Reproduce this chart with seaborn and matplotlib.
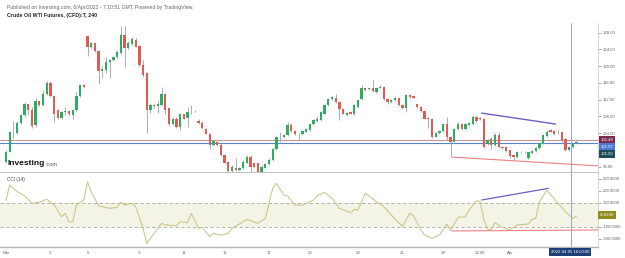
import numpy as np
import pandas as pd
import matplotlib
matplotlib.use("Agg")
import matplotlib.pyplot as plt
import seaborn as sns

# candles, 240 min bars
opens = [97.2, 99.6, 104.2, 104.0, 106.4, 108.3, 110.9, 109.5, 106.0, 111.7,
         110.7, 113.3, 115.9, 113.0, 109.5, 107.7, 109.0, 109.3, 108.3, 109.5,
         112.9, 115.5, 127.2, 124.5, 125.5, 123.7, 118.9, 119.1, 121.1, 121.5,
         122.2, 123.1, 127.4, 124.3, 125.4, 126.3, 124.9, 120.3, 118.3, 109.5,
         110.7, 110.5, 110.7, 113.4, 110.0, 106.1, 107.5, 105.5, 108.5, 107.7,
         109.0, 109.2, 107.0, 106.5, 105.1, 103.9, 101.3, 101.9, 101.2, 98.8,
         97.2, 95.0, 95.8, 95.2, 95.6, 97.0, 98.4, 96.8, 96.8, 94.8,
         95.8, 96.6, 97.6, 100.2, 103.2, 103.1, 103.5, 106.0, 104.5, 103.7,
         103.7, 104.4, 104.8, 106.1, 106.9, 107.2, 108.7, 110.7, 112.2, 112.3,
         111.5, 109.8, 108.3, 109.0, 108.5, 110.3, 112.2, 114.7, 114.6, 114.7,
         113.9, 114.9, 115.0, 112.2, 111.4, 111.9, 112.5, 110.7, 110.1, 113.1,
         112.9, 110.9, 110.3, 109.3, 107.6, 107.4, 103.2, 104.0, 104.5, 106.1,
         103.2, 102.0, 105.0, 106.2, 105.0, 106.0, 106.2, 107.9, 107.6, 107.5,
         101.5, 102.7, 101.3, 103.5, 100.8, 100.7, 99.9, 98.7, 98.3, 99.5,
         99.4, 98.1, 99.2, 99.7, 100.4, 101.6, 103.4, 104.8, 104.5, 104.2,
         104.2, 102.6, 99.9, 100.7, 101.6]
highs = [99.9, 104.5, 106.8, 106.8, 108.5, 111.5, 111.0, 110.3, 112.3, 111.8,
         114.3, 116.5, 116.5, 113.1, 109.9, 109.3, 110.3, 109.5, 109.9, 113.9,
         115.8, 115.7, 127.4, 125.8, 125.6, 123.9, 120.0, 122.3, 121.8, 122.5,
         123.8, 129.6, 129.6, 126.0, 127.0, 126.7, 125.1, 121.5, 118.5, 111.2,
         111.0, 111.6, 115.0, 113.6, 110.3, 107.8, 107.9, 108.8, 108.7, 110.3,
         110.7, 109.5, 107.3, 106.8, 105.3, 104.1, 102.4, 102.1, 101.9, 99.0,
         97.4, 96.3, 98.0, 96.0, 97.5, 98.8, 98.9, 97.1, 97.0, 96.3,
         96.9, 98.0, 100.5, 103.4, 104.2, 103.8, 106.6, 106.4, 104.7, 104.0,
         104.7, 105.3, 106.4, 107.5, 108.0, 109.3, 111.0, 112.5, 113.0, 113.3,
         111.7, 110.0, 109.1, 109.2, 111.0, 112.1, 115.4, 114.9, 114.9, 116.7,
         115.0, 115.4, 115.2, 112.4, 112.1, 112.8, 112.7, 110.9, 113.3, 113.3,
         113.0, 111.1, 110.5, 109.5, 107.8, 107.6, 104.2, 104.7, 106.3, 107.9,
         103.4, 105.2, 106.6, 106.4, 106.4, 106.6, 108.3, 108.1, 107.8, 107.7,
         102.6, 103.0, 104.0, 104.3, 101.0, 100.9, 100.1, 98.9, 99.8, 99.8,
         99.7, 99.6, 99.9, 100.6, 101.8, 103.8, 104.7, 105.0, 104.8, 104.8,
         104.4, 102.8, 100.9, 101.7, 102.1]
lows = [97.0, 99.4, 102.8, 103.7, 106.1, 107.9, 108.3, 105.2, 105.6, 110.6,
        110.6, 113.1, 112.7, 106.6, 107.5, 107.5, 108.3, 108.2, 107.4, 109.3,
        112.7, 114.9, 122.4, 124.3, 123.5, 115.7, 117.2, 118.3, 117.3, 121.2,
        121.9, 122.8, 119.9, 124.0, 125.0, 124.5, 120.0, 117.5, 104.0, 108.9,
        110.0, 108.8, 110.5, 108.7, 105.8, 106.0, 105.2, 104.8, 107.3, 105.5,
        108.5, 109.0, 106.3, 104.9, 103.7, 100.3, 101.0, 101.0, 98.6, 96.8,
        94.8, 94.8, 95.0, 95.0, 95.4, 96.8, 94.8, 95.7, 94.6, 94.6,
        95.6, 96.4, 97.4, 100.0, 102.0, 102.9, 103.3, 104.3, 103.5, 102.4,
        103.5, 104.2, 104.6, 105.9, 106.7, 107.0, 108.5, 110.5, 112.0, 111.3,
        107.1, 108.5, 108.1, 108.5, 108.3, 110.0, 112.0, 114.0, 114.3, 113.9,
        113.7, 114.7, 112.0, 111.0, 111.2, 111.7, 110.5, 109.9, 109.1, 112.5,
        112.3, 110.1, 109.0, 107.3, 105.2, 102.9, 103.0, 103.8, 104.3, 102.4,
        98.4, 101.8, 104.8, 104.8, 104.8, 105.8, 106.0, 106.7, 107.1, 100.5,
        101.3, 100.2, 101.0, 100.5, 100.3, 99.4, 98.0, 97.6, 98.1, 99.2,
        99.2, 97.9, 99.0, 99.5, 100.2, 101.4, 103.2, 104.2, 103.5, 103.9,
        101.9, 99.7, 99.7, 100.5, 101.4]
closes = [99.6, 104.2, 104.3, 106.4, 108.3, 110.9, 109.5, 105.8, 111.7, 110.7,
          113.3, 115.9, 113.0, 108.5, 107.7, 109.1, 109.3, 108.5, 109.5, 112.9,
          115.5, 115.0, 124.5, 125.6, 123.7, 118.9, 119.3, 121.1, 121.5, 122.2,
          123.3, 127.4, 124.3, 125.6, 126.5, 124.7, 120.3, 117.9, 109.5, 110.7,
          110.4, 111.0, 113.4, 109.5, 106.1, 107.4, 105.5, 108.5, 107.5, 109.0,
          109.1, 109.3, 106.5, 105.3, 103.9, 101.3, 102.1, 101.3, 98.8, 97.0,
          95.0, 96.0, 95.2, 95.8, 97.2, 98.4, 96.0, 96.0, 94.8, 96.0,
          96.6, 97.6, 100.2, 103.2, 103.1, 103.5, 106.0, 104.5, 103.7, 103.8,
          104.5, 105.0, 106.1, 107.2, 107.3, 109.0, 110.7, 112.2, 112.7, 111.5,
          109.8, 108.7, 108.9, 108.7, 110.7, 111.9, 114.7, 114.4, 114.6, 114.1,
          114.7, 115.1, 112.2, 111.4, 111.9, 112.5, 110.7, 110.1, 113.1, 112.7,
          112.5, 110.3, 109.3, 107.5, 107.4, 103.2, 104.0, 104.5, 106.1, 103.2,
          102.0, 105.0, 106.2, 105.0, 106.2, 106.4, 107.9, 107.0, 107.3, 100.7,
          102.3, 101.3, 103.5, 100.7, 100.5, 99.7, 98.6, 98.3, 99.5, 99.5,
          99.5, 99.4, 99.7, 100.4, 101.6, 103.5, 104.4, 104.4, 103.7, 104.2,
          102.4, 99.9, 100.7, 101.5, 101.8]

# CCI(14) turning points (bar index, value)
cci_bar = [0, 1, 3, 5, 7, 9, 11, 13, 15, 16, 17, 18, 19, 21, 22, 23, 25, 28, 30, 31,
           32, 34, 35, 37, 38, 39, 42, 43, 46, 47, 49, 50, 52, 53, 55, 56, 58, 60, 61, 63,
           65, 66, 68, 70, 72, 73, 75, 76, 78, 80, 82, 83, 84, 86, 88, 90, 93, 94, 95, 97,
           100, 102, 104, 107, 109, 110, 112, 113, 115, 117, 119, 120, 122, 124, 125, 127, 128, 129, 130, 131,
           132, 134, 136, 138, 141, 142, 143, 144, 146, 149, 151, 153, 154]
cci_val = [120, 250, 194, 160, 98, 106, 131, 83, -14, 14, -56, -56, 83, 125, 278, 194, 75, 56, 64, 106,
           83, 98, 69, -111, -236, -194, -69, -83, -89, -56, -64, 14, -111, -103, -181, -153, -167, -153, -111, -75,
           -36, -47, -69, -28, 222, 264, 167, 158, 83, 83, 110, 125, 160, 189, 139, 56, 19, 47, 42, 181,
           111, 69, 0, -97, 14, -8, -125, -167, -194, -167, -75, -131, -19, -14, 42, 119, 111, -40, -119, -119,
           -64, -103, -125, -83, -75, -36, -28, 111, 205, 98, 28, -28, -9]

# drawn trend lines (bar index, value)
price_top_bar, price_top_val = [128.4, 148.3], [108.8, 106.2]
price_low_bar, price_low_val = [120.4, 159.8], [98.3, 96.2]
cci_top_bar, cci_top_val = [128.4, 146.4], [125, 222]
cci_low_bar, cci_low_val = [120.4, 159.8], [-133, -125]

hlines = [102.48, 101.57]
price_ticks = [96, 104, 108, 112, 116, 120, 124, 128]
cci_ticks = [300, 200, 100, -100, -200]
x_tick_pos = [0, 12, 22, 36, 48, 59, 71, 82, 95, 107, 118, 128, 136]
x_tick_lab = ["Mar", "3", "6", "9", "11", "15", "17", "20", "23", "25", "29", "12:00", "Apr"]

sns.set_style("white")
plt.rcParams["font.family"] = ["Liberation Sans", "DejaVu Sans"]

W, H = 625, 258
fig = plt.figure(figsize=(W / 100, H / 100), dpi=100)


def box(x0, y0, x1, y1):
    return [x0 / W, 1 - y1 / H, (x1 - x0) / W, (y1 - y0) / H]


ax = fig.add_axes(box(0, 23, 598, 173))
axc = fig.add_axes(box(0, 173, 598, 247))

df = pd.DataFrame({"o": opens, "h": highs, "l": lows, "c": closes})
df["i"] = np.arange(len(df))
up = df["c"] >= df["o"]
body_col = np.where(up, "#2aae62", "#e25a52")

ax.vlines(df["i"], df["l"], df["h"], color="#9aa39e", lw=0.6, zorder=1)
ax.bar(df["i"], np.maximum((df["c"] - df["o"]).abs(), 0.1), bottom=df[["o", "c"]].min(axis=1),
       width=0.62, color=body_col, edgecolor="none", zorder=2)

ax.axhline(hlines[0], color="#c9929f", lw=0.8, zorder=0)
ax.axhline(hlines[1], color="#5a84c8", lw=0.8, zorder=0)
sns.lineplot(x=price_top_bar, y=price_top_val, ax=ax, color="#6f5fc4", lw=1.0)
sns.lineplot(x=price_low_bar, y=price_low_val, ax=ax, color="#ee8080", lw=0.8)

# CCI pane
axc.axhspan(-100, 100, color="#f3f3e6", lw=0, zorder=0)
for v in (100, -100):
    axc.axhline(v, color="#a8a8a0", lw=0.6, ls=(0, (4, 3)), zorder=1)
sns.lineplot(x=cci_bar, y=cci_val, ax=axc, color="#cbc98e", lw=0.8, estimator=None, sort=False)
sns.lineplot(x=cci_top_bar, y=cci_top_val, ax=axc, color="#6f5fc4", lw=0.9)
sns.lineplot(x=cci_low_bar, y=cci_low_val, ax=axc, color="#ee8080", lw=0.8)

for a in (ax, axc):
    a.axvline(152.4, color="#8ea7d3", lw=0.7, zorder=3)
    a.set_xlim(-1.62, 159.8)
    a.yaxis.tick_right()
    for s in ("top", "left"):
        a.spines[s].set_visible(False)
    a.spines["right"].set_color("#d0d0d0")
    a.spines["right"].set_linewidth(0.6)
    a.spines["bottom"].set_color("#b5b5b5")
    a.tick_params(axis="y", labelsize=3.1, colors="#666666", length=2, width=0.4, pad=1.5)
    a.set_xlabel("")
    a.set_ylabel("")
    a.grid(False)

ax.spines["bottom"].set_linewidth(1.2)
ax.set_ylim(94.5, 130.32)
ax.set_yticks(price_ticks)
ax.set_yticklabels([f"{t:.2f}" for t in price_ticks])
ax.set_xticks([])

axc.spines["bottom"].set_linewidth(1.0)
axc.set_ylim(-266.7, 350)
axc.set_yticks(cci_ticks)
axc.set_yticklabels([f"{t:.4f}" for t in cci_ticks])
axc.set_xticks(x_tick_pos)
axc.set_xticklabels(x_tick_lab)
axc.tick_params(axis="x", labelsize=3.1, colors="#666666", length=1.5, width=0.4, pad=1.2)

# texts
fig.text(7 / W, 1 - 7 / H, "Published on Investing.com, 6/Apr/2022 - 7:10:51 GMT, Powered by TradingView.",
         fontsize=3.7, color="#666666", va="center")
fig.text(7 / W, 1 - 16 / H, "Crude Oil WTI Futures, (CFD):T, 240", fontsize=3.8, weight="bold",
         color="#222222", va="center")
fig.text(7 / W, 1 - 180 / H, "CCI (14)", fontsize=3.4, color="#444444", va="center")
fig.text(8 / W, 1 - 163.5 / H, "Investing", fontsize=6.0, weight="bold", color="#111111", va="center")
fig.text(45.5 / W, 1 - 164.5 / H, ".com", fontsize=4.0, color="#555555", va="center")

labels = [("102.48", 140, "#7a2a4a"), ("101.57", 147, "#4a7ad6"), ("101.03", 154, "#1f4d57"),
          ("-8.8249", 215, "#8f8c1e")]
for txt, yy, col in labels:
    fig.text(607 / W, 1 - yy / H, txt, fontsize=3.1, color="white", ha="center", va="center",
             bbox=dict(boxstyle="square,pad=0.35", fc=col, ec="none"))
fig.text(570 / W, 1 - 252 / H, "2022-04-05 16:00:00", fontsize=3.1, color="white", ha="center",
         va="center", bbox=dict(boxstyle="square,pad=0.35", fc="#1d3e76", ec="none"))

fig.savefig("out.png", dpi=100)
